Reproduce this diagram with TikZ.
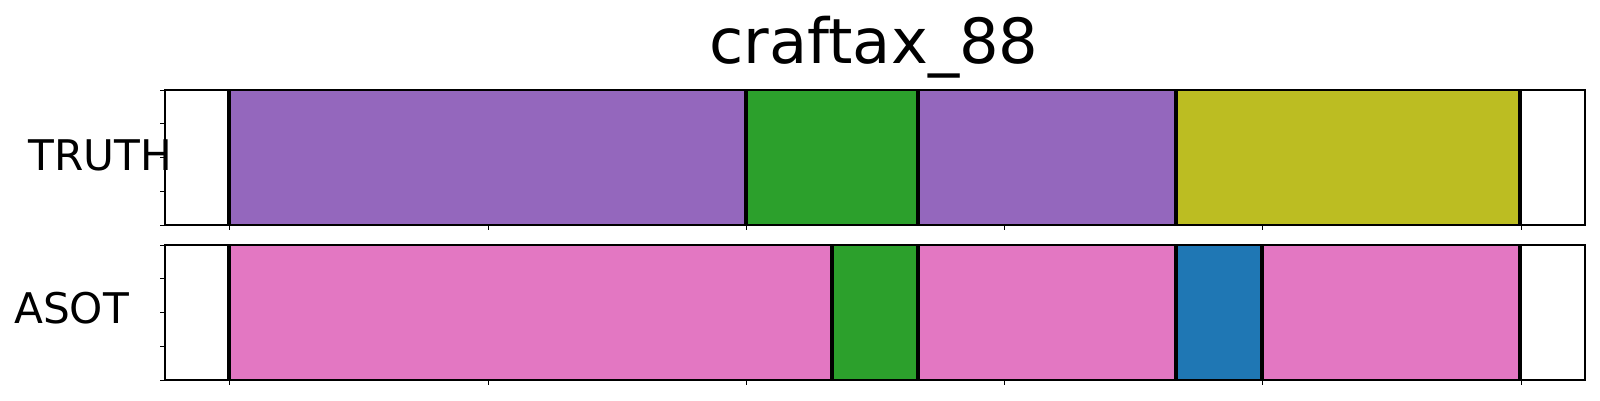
\documentclass[tikz,border=0pt]{standalone}
\usepackage{fontspec}
\setmainfont{DejaVu Sans}
\definecolor{tabpurple}{HTML}{9467BD}
\definecolor{tabgreen}{HTML}{2CA02C}
\definecolor{tabolive}{HTML}{BCBD22}
\definecolor{tabpink}{HTML}{E377C2}
\definecolor{tabblue}{HTML}{1F77B4}
\begin{document}
\begin{tikzpicture}[x=0.01in,y=-0.01in,
  bound/.style={line width=3pt,black},
  spine/.style={line width=0.85pt,black},
  tick/.style={line width=0.6pt,black},
  lbl/.style={inner sep=0pt,anchor=base west,font=\fontsize{30.5}{36}\selectfont}]
\useasboundingbox (0,0) rectangle (1600,400);
\fill[white] (0,0) rectangle (1600,400);
% title
\node[inner sep=0pt,anchor=base,font=\fontsize{45}{52}\selectfont] (title) at (874,63) {craftax\_88};
% labels
\node[lbl] (truth) at (28,170) {TRUTH};
\node[lbl] (asot) at (14,323) {ASOT};
% top axis segments
\fill[tabpurple] (229.3,90) rectangle (746,225);
\fill[tabgreen] (746,90) rectangle (918,225);
\fill[tabpurple] (918,90) rectangle (1176,225);
\fill[tabolive] (1176,90) rectangle (1520,225);
% bottom axis segments
\fill[tabpink] (229.3,245) rectangle (831.7,380);
\fill[tabgreen] (831.7,245) rectangle (918,380);
\fill[tabpink] (918,245) rectangle (1176,380);
\fill[tabblue] (1176,245) rectangle (1262,380);
\fill[tabpink] (1262,245) rectangle (1520,380);
% boundaries
\foreach \x in {229.3,746,918,1176,1520} \draw[bound] (\x,90) -- (\x,225);
\foreach \x in {229.3,831.7,918,1176,1262,1520} \draw[bound] (\x,245) -- (\x,380);
% spines
\draw[spine] (165,90) rectangle (1585,225);
\draw[spine] (165,245) rectangle (1585,380);
% y ticks
\foreach \y in {0,0.25,0.5,0.75,1} {
  \draw[tick] (165,{90+135*\y}) -- (160,{90+135*\y});
  \draw[tick] (165,{245+135*\y}) -- (160,{245+135*\y});
}
% x ticks
\foreach \x in {229.6,488,746.3,1004.6,1262.6,1521} {
  \draw[tick] (\x,225) -- (\x,230);
  \draw[tick] (\x,380) -- (\x,385);
}
\end{tikzpicture}
\end{document}
